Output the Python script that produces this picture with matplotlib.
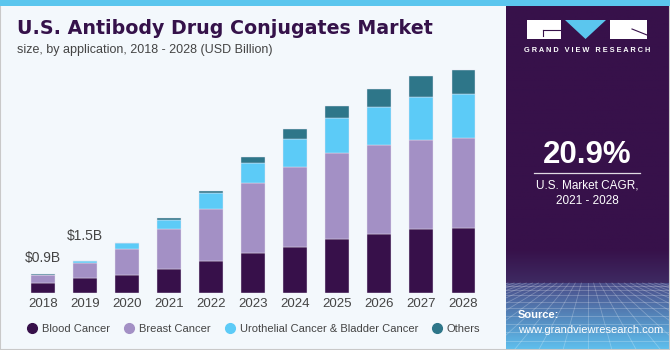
import numpy as np
import matplotlib
matplotlib.use("Agg")
import matplotlib.pyplot as plt
from matplotlib.patches import Rectangle, Polygon
from matplotlib.lines import Line2D

# values in USD billion
years = ["2018", "2019", "2020", "2021", "2022", "2023", "2024", "2025", "2026", "2027", "2028"]
blood = [0.46, 0.70, 0.87, 1.13, 1.54, 1.91, 2.20, 2.60, 2.86, 3.07, 3.14]
breast = [0.39, 0.74, 1.25, 1.97, 2.54, 3.40, 3.91, 4.17, 4.30, 4.32, 4.38]
urothelial = [0.03, 0.08, 0.29, 0.44, 0.75, 1.00, 1.34, 1.71, 1.86, 2.09, 2.10]
others = [0.01, 0.01, 0.01, 0.07, 0.08, 0.29, 0.49, 0.58, 0.87, 1.03, 1.18]
series_names = ["Blood Cancer", "Breast Cancer", "Urothelial Cancer & Bladder Cancer", "Others"]
total_labels = ["$0.9B", "$1.5B"]

colors = ["#37104a", "#a390c5", "#5ccbf7", "#2e7689"]
BG = "#f3f8fc"
PANEL = "#37114a"
W, H = 670, 350

plt.rcParams["font.family"] = ["Liberation Sans", "DejaVu Sans"]

fig = plt.figure(figsize=(W / 100, H / 100), dpi=100, facecolor=BG)


def fx(px):
    return px / W


def fy(py):
    return 1 - py / H


# frame and top stripe
fig.patches.append(Rectangle((0, 0), 1, 1, transform=fig.transFigure,
                             facecolor="none", edgecolor="#c9c9c9", lw=1.5, zorder=0))
fig.patches.append(Rectangle((0, fy(6)), 1, 6 / H, transform=fig.transFigure,
                             facecolor="#5bc6ee", edgecolor="none", zorder=1))

# bars
ax = fig.add_axes([fx(20), fy(292.7), fx(470), (292.7 - 65) / H])
ax.set_facecolor("none")
x = np.arange(len(years))
bottom = np.zeros(len(years))
for vals, c in zip([blood, breast, urothelial, others], colors):
    ax.bar(x, vals, 0.57, bottom=bottom, color=c, edgecolor="#e8e4f0", linewidth=0.3)
    bottom += np.array(vals)
ax.set_xlim(-0.547, 10.63)
ax.set_ylim(0, 11.04)
for s in ax.spines.values():
    s.set_visible(False)
ax.set_yticks([])
ax.set_xticks(x)
ax.set_xticklabels(years, fontsize=9.5, color="#444444")
ax.tick_params(axis="x", length=0, pad=4)

label_pad = [7, 13]
for i, (txt, pad) in enumerate(zip(total_labels, label_pad)):
    ax.annotate(txt.replace("$", r"\$"), (x[i], bottom[i]), xytext=(0, pad),
                textcoords="offset points", ha="center", va="bottom",
                fontsize=10, color="#444444")

# legend
handles = [Line2D([], [], marker="o", ls="", markersize=7, color=c) for c in colors]
fig.legend(handles, series_names, loc="center", bbox_to_anchor=(fx(253), fy(329)),
           ncol=4, frameon=False, fontsize=8, handletextpad=0.3,
           columnspacing=1.1, handlelength=1.2, labelcolor="#444444")

# titles
fig.text(fx(17), fy(28), "U.S. Antibody Drug Conjugates Market", fontsize=13.7,
         fontweight="bold", color="#35124a", va="center", family="DejaVu Sans")
fig.text(fx(17), fy(50), "size, by application, 2018 - 2028 (USD Billion)",
         fontsize=9, color="#444444", va="center")

# right panel with gradient at the bottom
pax = fig.add_axes([fx(506), 0, fx(163), fy(6)])
pax.set_axis_off()
n = 400
t = np.linspace(0, 1, n)  # 0 = top, 1 = bottom
top_c = np.array(matplotlib.colors.to_rgb(PANEL))
mid_c = np.array(matplotlib.colors.to_rgb("#3e2a62"))
low_c = np.array(matplotlib.colors.to_rgb("#4a4c88"))
bot_c = np.array(matplotlib.colors.to_rgb("#5fc0ee"))
grad = np.zeros((n, 3))
cut1, cut2 = (250 - 6) / 344, (283 - 6) / 344
for k, v in enumerate(t):
    if v < cut1:
        grad[k] = top_c
    elif v < cut2:
        f = (v - cut1) / (cut2 - cut1)
        grad[k] = top_c + (mid_c - top_c) * f
    else:
        f = (v - cut2) / (1 - cut2)
        grad[k] = low_c + (bot_c - low_c) * f
pax.imshow(grad[:, None, :], aspect="auto", extent=(0, 1, 0, 1))
pax.set_xlim(0, 1)
pax.set_ylim(0, 1)
# faint perspective grid
hz = 1 - cut2
for k in range(10):
    yy = hz * (1 - ((k + 1) / 10) ** 1.4)
    pax.plot([0, 1], [yy, yy], color="white", alpha=0.25, lw=0.6)
for k in range(-8, 19):
    x0 = k / 12
    pax.plot([0.5 + (x0 - 0.5) * 0.45, 0.5 + (x0 - 0.5) * 1.8], [hz, 0],
             color="white", alpha=0.25, lw=0.6)

# logo
fig.patches.append(Rectangle((fx(527), fy(39)), 34 / W, 19 / H, transform=fig.transFigure,
                             facecolor="white", edgecolor="none"))
fig.lines.append(Line2D([fx(543), fx(561)], [fy(30), fy(30)], transform=fig.transFigure,
                        color=PANEL, lw=0.8))
fig.lines.append(Line2D([fx(543), fx(543)], [fy(30), fy(36)], transform=fig.transFigure,
                        color=PANEL, lw=0.8))
fig.patches.append(Polygon([(fx(565), fy(20)), (fx(606), fy(20)), (fx(585.5), fy(39))],
                           transform=fig.transFigure, facecolor="#5bc6ee", edgecolor="none"))
fig.patches.append(Rectangle((fx(610), fy(39)), 37 / W, 19 / H, transform=fig.transFigure,
                             facecolor="white", edgecolor="none"))
fig.lines.append(Line2D([fx(632), fx(647)], [fy(29), fy(35)], transform=fig.transFigure,
                        color=PANEL, lw=0.8))
fig.text(fx(587.5), fy(51), "G R A N D   V I E W   R E S E A R C H", fontsize=5.3,
         fontweight="bold", color="white", ha="center", va="center")

fig.text(fx(587.5), fy(155), "20.9%", fontsize=22.5, fontweight="bold", color="white",
         ha="center", va="center")
fig.lines.append(Line2D([fx(534), fx(640)], [fy(173.3), fy(173.3)], transform=fig.transFigure,
                        color="white", lw=0.9, alpha=0.85))
fig.text(fx(587.5), fy(185.5), "U.S. Market CAGR,", fontsize=8.5, color="white",
         ha="center", va="center")
fig.text(fx(587.5), fy(201), "2021 - 2028", fontsize=8.5, color="white",
         ha="center", va="center")
fig.text(fx(518), fy(315), "Source:", fontsize=8, fontweight="bold", color="white", va="center")
fig.text(fx(518), fy(330), "www.grandviewresearch.com", fontsize=8, color="white", va="center")

fig.savefig("out.png", dpi=100, facecolor=BG)
